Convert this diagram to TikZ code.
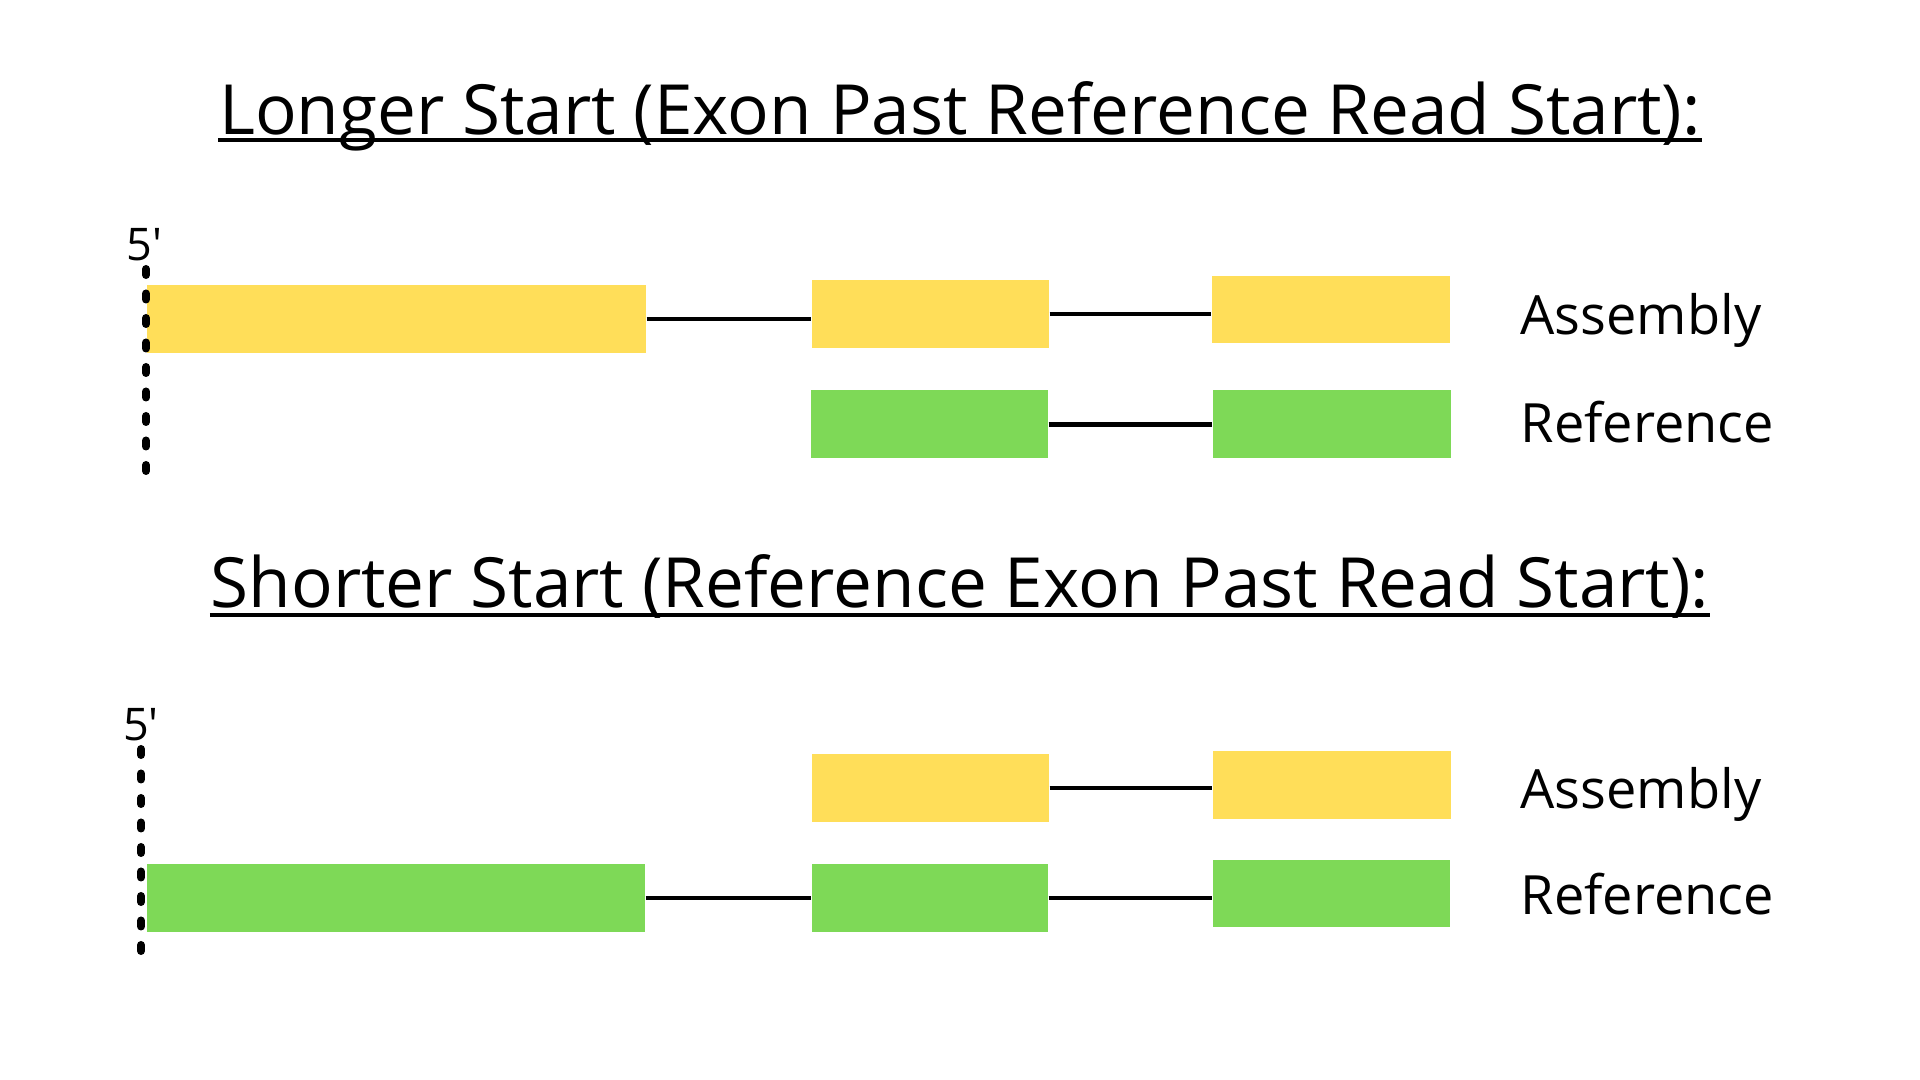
\documentclass[tikz,border=0pt]{standalone}
\usepackage{fontspec}
\setmainfont{Open Sans}
\usetikzlibrary{positioning}

\definecolor{exonyellow}{HTML}{FFDE59}
\definecolor{exongreen}{HTML}{7ED957}

\tikzset{
	exon/.style={inner sep=0, minimum height=0.68cm},
	asmexon/.style={exon, fill=exonyellow},
	refexon/.style={exon, fill=exongreen},
	intron/.style={line width=0.042cm},
	readstart/.style={line width=0.08cm, line cap=round, dash pattern=on 0.06cm off 0.185cm},
	heading/.style={font=\fontsize{19.7}{24}\selectfont, inner sep=0, anchor=base},
	uline/.style={line width=0.04cm},
	trackname/.style={font=\fontsize{15.4}{19}\selectfont, inner sep=0, anchor=base west},
	primelbl/.style={font=\fontsize{12.8}{15}\selectfont, inner sep=0},
}

\begin{document}
\begin{tikzpicture}
	\fill[white] (0,0) rectangle (19.2,10.8);
	\useasboundingbox (0,0) rectangle (19.2,10.8);

	% headings %
	\node[heading] (h1) at (9.60,9.45) {Longer Start (Exon Past Reference Read Start):};
	\node[heading] (h2) at (9.60,4.72) {Shorter Start (Reference Exon Past Read Start):};
	\draw[uline] ([yshift=-0.05cm]h1.base west) -- ([yshift=-0.05cm]h1.base east);
	\draw[uline] ([yshift=-0.07cm]h2.base west) -- ([yshift=-0.07cm]h2.base east);

	% longer start: nodes %
	\node[asmexon, minimum width=4.99cm] (ya1) at (3.965,7.61) {};
	\node[asmexon, minimum width=2.37cm] (ya2) at (9.305,7.66) {};
	\node[asmexon, minimum width=2.38cm, minimum height=0.67cm] (ya3) at (13.31,7.705) {};
	\node[refexon, minimum width=2.37cm] (ga1) at (9.295,6.555) {};
	\node[refexon, minimum width=2.38cm] (ga2) at (13.32,6.555) {};
	\node[trackname] (asm1) at (15.2,7.45) {Assembly};
	\node[trackname] (ref1) at (15.2,6.37) {Reference};
	\node[primelbl] (p1) at (1.445,8.35) {5\textquotesingle};
	\coordinate (s1top) at (1.46,8.11);
	\coordinate (s1bot) at (1.46,6.09);

	% longer start: edges %
	\draw[intron] (ya1.east) -- (ya1.east -| ya2.west);
	\draw[intron] (ya2.east) -- (ya2.east -| ya3.west);
	\draw[intron] (ga1.east) -- (ga1.east -| ga2.west);
	\draw[readstart] (s1top) -- (s1bot);

	% shorter start: nodes %
	\node[asmexon, minimum width=2.37cm] (yb1) at (9.305,2.92) {};
	\node[asmexon, minimum width=2.38cm] (yb2) at (13.32,2.945) {};
	\node[refexon, minimum width=4.98cm] (gb1) at (3.96,1.82) {};
	\node[refexon, minimum width=2.36cm] (gb2) at (9.30,1.82) {};
	\node[refexon, minimum width=2.37cm, minimum height=0.67cm] (gb3) at (13.315,1.865) {};
	\node[trackname] (asm2) at (15.2,2.71) {Assembly};
	\node[trackname] (ref2) at (15.2,1.65) {Reference};
	\node[primelbl] (p2) at (1.41,3.55) {5\textquotesingle};
	\coordinate (s2top) at (1.41,3.31);
	\coordinate (s2bot) at (1.41,1.29);

	% shorter start: edges %
	\draw[intron] (yb1.east) -- (yb1.east -| yb2.west);
	\draw[intron] (gb1.east) -- (gb1.east -| gb2.west);
	\draw[intron] (gb2.east) -- (gb2.east -| gb3.west);
	\draw[readstart] (s2top) -- (s2bot);
\end{tikzpicture}
\end{document}
